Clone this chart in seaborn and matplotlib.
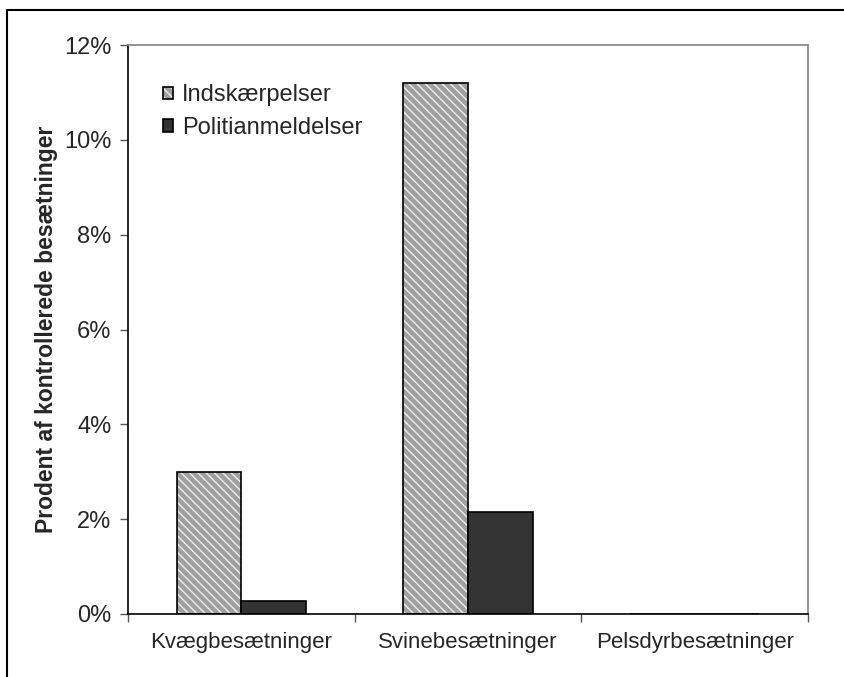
import numpy as np
import pandas as pd
import matplotlib
matplotlib.use("Agg")
import matplotlib.pyplot as plt
import seaborn as sns
from matplotlib.colors import to_rgba
from matplotlib.lines import Line2D
from matplotlib.ticker import PercentFormatter

# data (percent of inspected herds)
categories = ["Kvægbesætninger", "Svinebesætninger", "Pelsdyrbesætninger"]
series = ["Indskærpelser", "Politianmeldelser"]
indskaerpelser = [3.0, 11.2, 0.0]
politianmeldelser = [0.27, 2.15, 0.0]
ylabel = "Prodent af kontrollerede besætninger"

df = pd.DataFrame({
    "kategori": categories * 2,
    "serie": [series[0]] * 3 + [series[1]] * 3,
    "pct": indskaerpelser + politianmeldelser,
})

sns.set_style("white")
plt.rcParams["font.family"] = ["Liberation Sans", "DejaVu Sans"]
plt.rcParams["hatch.linewidth"] = 1.0

fig = plt.figure(figsize=(8.45, 6.77), dpi=100)
ax = fig.add_axes([128/845, 1-614/677, (808-128)/845, (614-45)/677])

sns.barplot(data=df, x="kategori", y="pct", hue="serie", hue_order=series,
            order=categories, palette=["#a0a0a0", "#333333"], width=0.57,
            gap=0, edgecolor="black", linewidth=1.2, errorbar=None,
            saturation=1, legend=False, ax=ax)

# hatched fill for the first series: fine white stripes on grey
for bar in ax.containers[0]:
    bar.set_hatch("\\\\\\\\")
    bar._hatch_color = to_rgba("#eeeeee")

ax.set_ylim(0, 12)
ax.set_xlim(-0.5, 2.5)
ax.set_yticks(np.arange(0, 13, 2))
ax.yaxis.set_major_formatter(PercentFormatter(decimals=0))
ax.set_xlabel("")
ax.set_ylabel(ylabel, fontsize=16.5, fontweight="bold", labelpad=4)

# x ticks at category boundaries
ax.set_xticks([-0.5, 0.5, 1.5, 2.5], minor=True)
ax.tick_params(axis="x", which="major", length=0, labelsize=16, pad=13)
ax.tick_params(axis="x", which="minor", length=6, width=1, color="#555555",
               direction="out", bottom=True)
ax.tick_params(axis="y", length=6, width=1, color="#555555", direction="out",
               left=True, labelsize=17, pad=6)

for side in ["top", "right"]:
    ax.spines[side].set_color("#8c8c8c")
    ax.spines[side].set_linewidth(1.3)
for side in ["left", "bottom"]:
    ax.spines[side].set_color("black")
    ax.spines[side].set_linewidth(1.2)

leg = ax.legend(handles=[ax.containers[0][0], ax.containers[1][0]],
                labels=series, loc="upper left", bbox_to_anchor=(0.02, 0.968),
                frameon=False, fontsize=17, handlelength=0.45,
                handleheight=0.45, handletextpad=0.35, labelspacing=0.45)

# outer frame of the picture (left and top edges visible)
fig.add_artist(Line2D([7/845, 7/845], [0, 1-10/677], color="black", lw=1.5,
                      transform=fig.transFigure))
fig.add_artist(Line2D([7/845, 1], [1-10/677, 1-10/677], color="black", lw=1.5,
                      transform=fig.transFigure))

fig.savefig("out.png", dpi=100)
